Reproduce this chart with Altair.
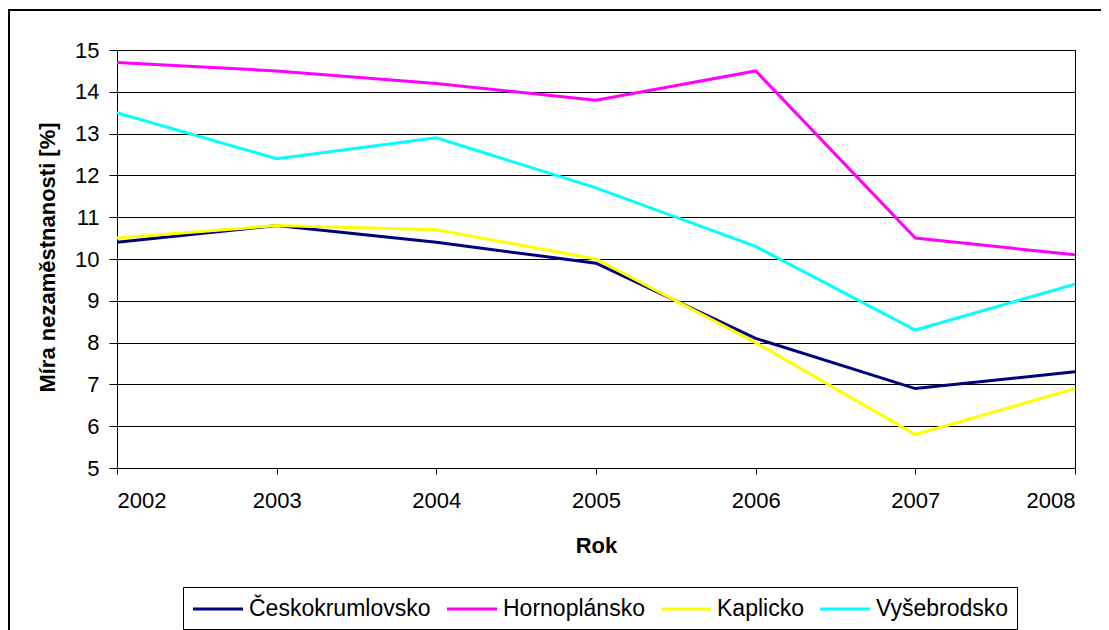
import altair as alt
import pandas as pd

years = [2002, 2003, 2004, 2005, 2006, 2007, 2008]
regions = ["Českokrumlovsko", "Hornoplánsko", "Kaplicko", "Vyšebrodsko"]
ceskokrumlovsko = [10.4, 10.8, 10.4, 9.9, 8.1, 6.9, 7.3]
hornoplansko = [14.7, 14.5, 14.2, 13.8, 14.5, 10.5, 10.1]
kaplicko = [10.5, 10.8, 10.7, 10.0, 8.0, 5.8, 6.9]
vysebrodsko = [13.5, 12.4, 12.9, 11.7, 10.3, 8.3, 9.4]
colors = ["#000080", "#FF00FF", "#FFFF00", "#00FFFF"]
y_ticks = list(range(5, 16))

rows = []
for name, vals in zip(regions, [ceskokrumlovsko, hornoplansko, kaplicko, vysebrodsko]):
    for yr, v in zip(years, vals):
        rows.append({"Rok": yr, "Oblast": name, "Hodnota": v})
df = pd.DataFrame(rows)

FONT = "Liberation Sans, Arial, sans-serif"

border = alt.Chart(pd.DataFrame({"a": [0]})).mark_rect(
    fill="transparent", stroke="black", strokeWidth=2
).encode(
    x=alt.value(-108), x2=alt.value(1100), y=alt.value(-40), y2=alt.value(700)
)

lines = alt.Chart(df).mark_line(strokeWidth=3).encode(
    x=alt.X(
        "Rok:Q",
        scale=alt.Scale(domain=[2002, 2008], nice=False, zero=False),
        axis=alt.Axis(
            values=years, format="d", title="Rok", grid=False,
            tickSize=6, labelPadding=16, titleY=77, titleBaseline="middle",
            labelFontSize=22,
        ),
    ),
    y=alt.Y(
        "Hodnota:Q",
        scale=alt.Scale(domain=[5, 15], nice=False, zero=False),
        axis=alt.Axis(
            values=y_ticks, title="Míra nezaměstnanosti [%]", grid=True,
            tickSize=8, labelPadding=10, titleX=-70, titleY=207,
            titleAngle=270, titleAlign="center", titleBaseline="middle",
            labelFontSize=22,
        ),
    ),
    color=alt.Color(
        "Oblast:N",
        scale=alt.Scale(domain=regions, range=colors),
        legend=alt.Legend(
            title=None, orient="none", legendX=66, legendY=537,
            direction="horizontal", symbolType="M-2,0H2", symbolSize=625,
            symbolStrokeWidth=3, symbolOffset=13, labelFont=FONT, labelFontSize=23,
            labelColor="black", labelLimit=400, strokeColor="black", fillColor="white",
            padding=8, columnPadding=10, labelOffset=17,
        ),
    ),
)

chart = alt.layer(border, lines).properties(
    width=958, height=418,
    padding={"left": 109, "top": 42, "right": 26, "bottom": 162},
    autosize=alt.AutoSizeParams(type="none"),
    background="white",
).configure_view(
    stroke="black", strokeWidth=1
).configure_axis(
    gridColor="black", gridWidth=1, domainColor="black", domainWidth=1,
    tickColor="black", labelFont=FONT, labelColor="black",
    titleFont=FONT, titleFontSize=22, titleFontWeight="bold", titleColor="black",
)

chart.save("out.html", embed_options={"renderer": "svg", "actions": False})
